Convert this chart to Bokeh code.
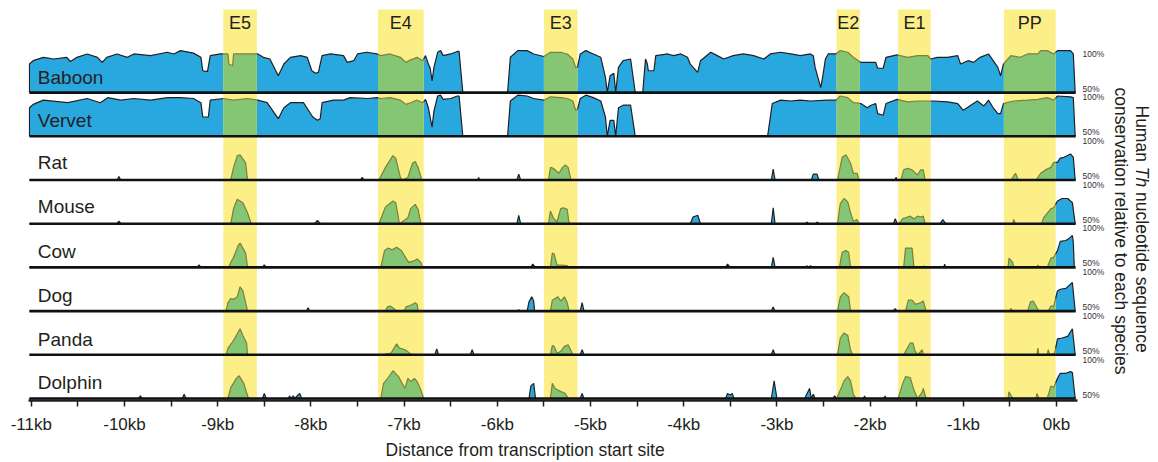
import numpy as np
from bokeh.plotting import figure
from bokeh.models import Range1d, FixedTicker, Title
from bokeh.core.properties import value
from bokeh.embed import file_html
from bokeh.resources import INLINE

# ---------------- data ----------------
species = ["Baboon", "Vervet", "Rat", "Mouse", "Cow", "Dog", "Panda", "Dolphin"]

# (position in kb relative to TSS, % identity); values <= 50 sit on the baseline
baboon = [(-11.02, 50), (-11.02, 84), (-10.98, 88), (-10.87, 92), (-10.76, 90), (-10.62, 92), (-10.58, 87),
          (-10.51, 92), (-10.40, 96), (-10.29, 92), (-10.24, 86), (-10.19, 92), (-10.08, 96), (-9.97, 92),
          (-9.90, 96), (-9.72, 94), (-9.54, 98), (-9.47, 96), (-9.40, 100), (-9.26, 97), (-9.18, 92),
          (-9.16, 76), (-9.11, 75), (-9.08, 94), (-8.97, 96), (-8.89, 96), (-8.88, 84), (-8.84, 82),
          (-8.83, 96), (-8.72, 96), (-8.62, 96), (-8.57, 96), (-8.51, 92), (-8.44, 90), (-8.35, 70),
          (-8.29, 84), (-8.22, 92), (-8.11, 94), (-8.04, 92), (-7.99, 76), (-7.95, 73), (-7.92, 74),
          (-7.88, 94), (-7.79, 96), (-7.65, 94), (-7.61, 86), (-7.54, 88), (-7.50, 96), (-7.40, 98),
          (-7.29, 96), (-7.25, 94), (-7.15, 96), (-7.04, 92), (-6.98, 86), (-6.93, 89), (-6.86, 92),
          (-6.80, 88), (-6.77, 94), (-6.74, 84), (-6.72, 79), (-6.70, 64), (-6.68, 80), (-6.64, 98),
          (-6.61, 100), (-6.58, 94), (-6.50, 96), (-6.43, 99), (-6.41, 99), (-6.37, 50), (-5.89, 50),
          (-5.86, 92), (-5.78, 100), (-5.68, 100), (-5.61, 96), (-5.50, 93), (-5.43, 98), (-5.32, 98),
          (-5.25, 96), (-5.19, 90), (-5.16, 80), (-5.14, 80), (-5.11, 96), (-5.05, 100), (-4.97, 96),
          (-4.89, 92), (-4.84, 68), (-4.82, 50), (-4.79, 70), (-4.75, 73), (-4.73, 50), (-4.70, 80),
          (-4.65, 88), (-4.57, 90), (-4.52, 50), (-4.44, 50), (-4.41, 90), (-4.39, 84), (-4.38, 76),
          (-4.32, 76), (-4.30, 94), (-4.17, 96), (-4.11, 94), (-4.03, 96), (-3.96, 92), (-3.93, 84),
          (-3.85, 74), (-3.82, 88), (-3.71, 98), (-3.64, 94), (-3.57, 90), (-3.47, 94), (-3.36, 96),
          (-3.25, 94), (-3.14, 90), (-3.07, 96), (-2.96, 98), (-2.85, 96), (-2.75, 94), (-2.64, 96),
          (-2.61, 94), (-2.59, 80), (-2.55, 64), (-2.53, 56), (-2.51, 68), (-2.48, 90), (-2.45, 96),
          (-2.37, 96), (-2.32, 100), (-2.24, 98), (-2.18, 92), (-2.10, 86), (-1.99, 86), (-1.94, 86),
          (-1.92, 79), (-1.86, 79), (-1.83, 92), (-1.71, 95), (-1.60, 92), (-1.49, 94), (-1.38, 94),
          (-1.35, 90), (-1.28, 92), (-1.17, 92), (-1.06, 94), (-1.03, 84), (-0.95, 88), (-0.89, 86),
          (-0.82, 92), (-0.73, 96), (-0.68, 88), (-0.63, 80), (-0.60, 70), (-0.57, 84), (-0.49, 94),
          (-0.39, 92), (-0.31, 96), (-0.20, 96), (-0.17, 100), (-0.10, 100), (-0.03, 96), (0.01, 100),
          (0.15, 100), (0.18, 96), (0.20, 50)]

vervet = [(-11.02, 50), (-11.02, 84), (-10.98, 88), (-10.87, 93), (-10.61, 90), (-10.40, 95), (-10.26, 90),
          (-10.18, 96), (-10.04, 93), (-9.90, 95), (-9.72, 93), (-9.54, 96), (-9.40, 96), (-9.26, 95),
          (-9.18, 90), (-9.16, 73), (-9.10, 73), (-9.08, 93), (-8.94, 95), (-8.83, 93), (-8.68, 95),
          (-8.57, 93), (-8.47, 90), (-8.35, 71), (-8.29, 84), (-8.22, 90), (-8.08, 90), (-7.98, 73),
          (-7.93, 69), (-7.90, 71), (-7.88, 90), (-7.76, 93), (-7.65, 93), (-7.58, 96), (-7.39, 95),
          (-7.29, 96), (-7.25, 95), (-7.15, 96), (-7.04, 93), (-6.98, 88), (-6.93, 90), (-6.86, 93),
          (-6.80, 90), (-6.77, 94), (-6.74, 84), (-6.70, 61), (-6.68, 80), (-6.64, 98), (-6.61, 99),
          (-6.58, 94), (-6.50, 95), (-6.43, 98), (-6.41, 98), (-6.37, 50), (-5.89, 50), (-5.86, 92),
          (-5.78, 99), (-5.68, 98), (-5.61, 95), (-5.50, 93), (-5.43, 97), (-5.32, 96), (-5.25, 95),
          (-5.19, 92), (-5.16, 81), (-5.14, 82), (-5.11, 95), (-5.05, 99), (-4.97, 96), (-4.89, 92),
          (-4.84, 73), (-4.82, 50), (-4.79, 69), (-4.75, 69), (-4.73, 50), (-4.70, 84), (-4.65, 87),
          (-4.57, 87), (-4.52, 50), (-3.10, 50), (-3.05, 89), (-2.96, 93), (-2.85, 92), (-2.75, 93),
          (-2.64, 92), (-2.46, 93), (-2.37, 93), (-2.32, 98), (-2.24, 96), (-2.18, 90), (-2.10, 89),
          (-2.03, 84), (-1.99, 87), (-1.94, 89), (-1.92, 77), (-1.86, 75), (-1.83, 89), (-1.71, 94),
          (-1.60, 91), (-1.49, 92), (-1.38, 92), (-1.32, 92), (-1.17, 91), (-1.06, 89), (-1.00, 81),
          (-0.92, 87), (-0.85, 92), (-0.78, 86), (-0.73, 93), (-0.68, 84), (-0.63, 77), (-0.60, 77),
          (-0.57, 89), (-0.46, 92), (-0.31, 93), (-0.20, 94), (-0.10, 96), (-0.03, 93), (0.01, 98),
          (0.15, 97), (0.18, 96), (0.20, 50)]

rat = [(-11.02, 50), (-10.08, 50), (-10.06, 54), (-10.04, 50),
       (-8.86, 50), (-8.83, 65), (-8.79, 79), (-8.76, 80), (-8.70, 70), (-8.68, 50),
       (-7.47, 50), (-7.45, 53), (-7.43, 50),
       (-7.27, 50), (-7.20, 65), (-7.12, 79), (-7.09, 76), (-7.04, 53), (-7.02, 50), (-6.96, 53),
       (-6.91, 70), (-6.88, 72), (-6.85, 65), (-6.81, 50),
       (-6.21, 50), (-6.20, 53), (-6.19, 50), (-5.79, 50), (-5.77, 57), (-5.75, 50),
       (-5.45, 50), (-5.43, 65), (-5.40, 64), (-5.34, 58), (-5.30, 65), (-5.27, 68), (-5.24, 65), (-5.21, 50),
       (-3.06, 50), (-3.04, 63), (-3.02, 50), (-2.63, 50), (-2.61, 57), (-2.57, 57), (-2.55, 50),
       (-2.35, 50), (-2.30, 77), (-2.26, 80), (-2.21, 70), (-2.18, 58), (-2.14, 58), (-2.12, 50),
       (-1.74, 50), (-1.72, 53), (-1.71, 50),
       (-1.67, 50), (-1.64, 62), (-1.60, 64), (-1.55, 62), (-1.49, 56), (-1.46, 62), (-1.43, 62), (-1.41, 50),
       (-0.49, 50), (-0.44, 58), (-0.41, 50),
       (-0.22, 50), (-0.17, 58), (-0.12, 62), (-0.06, 65), (-0.03, 71), (0.01, 71), (0.04, 76), (0.08, 77),
       (0.15, 81), (0.18, 77), (0.20, 50)]

mouse = [(-11.02, 50), (-10.08, 50), (-10.06, 53), (-10.04, 50),
         (-8.86, 50), (-8.83, 68), (-8.79, 79), (-8.73, 75), (-8.68, 63), (-8.64, 50),
         (-7.96, 50), (-7.93, 54), (-7.90, 50),
         (-7.27, 50), (-7.20, 70), (-7.12, 77), (-7.09, 75), (-7.05, 50), (-6.96, 57), (-6.93, 68),
         (-6.88, 73), (-6.85, 67), (-6.82, 50),
         (-5.79, 50), (-5.77, 60), (-5.75, 50),
         (-5.45, 50), (-5.43, 65), (-5.40, 57), (-5.36, 52), (-5.32, 68), (-5.29, 69), (-5.25, 67), (-5.23, 50),
         (-3.93, 50), (-3.90, 58), (-3.85, 60), (-3.82, 50), (-3.06, 50), (-3.04, 69), (-3.02, 50),
         (-2.69, 50), (-2.68, 52), (-2.66, 50), (-2.58, 50), (-2.57, 52), (-2.55, 50),
         (-2.35, 50), (-2.32, 74), (-2.28, 80), (-2.24, 76), (-2.21, 63), (-2.18, 53), (-2.14, 55), (-2.12, 50),
         (-1.75, 50), (-1.73, 56), (-1.71, 50),
         (-1.69, 50), (-1.65, 56), (-1.62, 57), (-1.57, 59), (-1.53, 56), (-1.49, 59), (-1.46, 58),
         (-1.43, 59), (-1.41, 50), (-1.25, 50), (-1.22, 55), (-1.19, 50),
         (-0.47, 50), (-0.46, 55), (-0.44, 50),
         (-0.16, 50), (-0.14, 57), (-0.06, 68), (-0.03, 69), (0.01, 77), (0.06, 80), (0.12, 80), (0.17, 75),
         (0.20, 50)]

cow = [(-11.02, 50), (-9.22, 50), (-9.20, 53), (-9.18, 50),
       (-8.88, 50), (-8.86, 56), (-8.83, 62), (-8.78, 76), (-8.76, 79), (-8.70, 67), (-8.68, 50),
       (-8.52, 50), (-8.50, 53), (-8.48, 50),
       (-7.25, 50), (-7.21, 70), (-7.17, 73), (-7.13, 71), (-7.08, 74), (-7.03, 70), (-6.98, 61),
       (-6.95, 56), (-6.89, 58), (-6.86, 60), (-6.82, 56), (-6.80, 50),
       (-5.64, 50), (-5.62, 54), (-5.59, 50),
       (-5.43, 50), (-5.41, 67), (-5.39, 66), (-5.36, 53), (-5.25, 52), (-5.23, 50),
       (-3.55, 50), (-3.53, 54), (-3.50, 50), (-3.06, 50), (-3.04, 62), (-3.02, 50),
       (-2.69, 50), (-2.68, 52), (-2.66, 50), (-2.64, 52), (-2.62, 50),
       (-2.33, 50), (-2.30, 68), (-2.26, 70), (-2.23, 68), (-2.21, 50),
       (-1.64, 50), (-1.62, 73), (-1.55, 73), (-1.53, 50), (-1.43, 50), (-1.42, 52), (-1.41, 50),
       (-1.21, 50), (-1.20, 54), (-1.19, 50),
       (-0.52, 50), (-0.51, 61), (-0.47, 56), (-0.46, 50), (-0.21, 50), (-0.20, 53), (-0.19, 50),
       (-0.10, 50), (-0.06, 61), (-0.03, 62), (0.01, 70), (0.04, 81), (0.10, 82), (0.13, 84), (0.17, 88),
       (0.18, 80), (0.19, 50)]

dog = [(-11.02, 50),
       (-8.91, 50), (-8.89, 60), (-8.86, 65), (-8.83, 64), (-8.79, 67), (-8.76, 79), (-8.73, 74), (-8.70, 60),
       (-8.68, 50), (-8.05, 50), (-8.03, 54), (-8.01, 50),
       (-7.20, 50), (-7.18, 55), (-7.15, 56), (-7.11, 53), (-7.08, 50), (-7.00, 50), (-6.98, 55),
       (-6.93, 57), (-6.88, 60), (-6.86, 58), (-6.85, 50),
       (-5.78, 50), (-5.77, 52), (-5.76, 50), (-5.68, 50), (-5.66, 61), (-5.63, 67), (-5.61, 62), (-5.60, 50),
       (-5.43, 50), (-5.41, 63), (-5.35, 67), (-5.32, 62), (-5.28, 67), (-5.25, 60), (-5.23, 50),
       (-5.11, 50), (-5.09, 60), (-5.07, 50), (-3.06, 50), (-3.04, 55), (-3.02, 50),
       (-2.35, 50), (-2.32, 67), (-2.28, 72), (-2.23, 67), (-2.21, 50),
       (-1.76, 50), (-1.73, 53), (-1.71, 50),
       (-1.62, 50), (-1.59, 63), (-1.55, 63), (-1.51, 58), (-1.46, 60), (-1.43, 62), (-1.40, 50),
       (-0.50, 50), (-0.49, 53), (-0.47, 50), (-0.31, 50), (-0.28, 61), (-0.25, 62), (-0.20, 52), (-0.19, 50),
       (-0.09, 50), (-0.06, 56), (-0.03, 56), (0.01, 74), (0.04, 76), (0.10, 77), (0.15, 82), (0.17, 84),
       (0.20, 50)]

panda = [(-11.02, 50),
         (-8.91, 50), (-8.89, 58), (-8.85, 64), (-8.82, 69), (-8.76, 81), (-8.73, 73), (-8.69, 64), (-8.68, 50),
         (-7.24, 50), (-7.14, 52), (-7.08, 63), (-7.05, 58), (-6.99, 56), (-6.94, 52), (-6.92, 50),
         (-6.67, 50), (-6.65, 57), (-6.63, 50), (-6.29, 50), (-6.27, 56), (-6.25, 50),
         (-5.43, 50), (-5.41, 61), (-5.39, 60), (-5.36, 52), (-5.32, 54), (-5.28, 60), (-5.24, 62),
         (-5.21, 55), (-5.19, 50), (-5.11, 50), (-5.09, 56), (-5.07, 50),
         (-3.06, 50), (-3.04, 56), (-3.02, 50),
         (-2.35, 50), (-2.32, 70), (-2.28, 76), (-2.24, 73), (-2.21, 56), (-2.19, 50),
         (-1.64, 50), (-1.60, 58), (-1.57, 64), (-1.54, 64), (-1.52, 55), (-1.49, 50), (-1.44, 56), (-1.43, 50),
         (-0.21, 50), (-0.20, 58), (-0.19, 50),
         (-0.10, 50), (-0.09, 56), (-0.07, 50), (-0.02, 52), (0.01, 69), (0.06, 70), (0.12, 72), (0.17, 81),
         (0.20, 50)]

dolphin = [(-11.02, 50), (-9.85, 50), (-9.83, 53), (-9.81, 50), (-9.38, 50), (-9.36, 55), (-9.34, 50),
           (-8.89, 50), (-8.86, 63), (-8.80, 74), (-8.77, 77), (-8.72, 68), (-8.67, 50),
           (-8.52, 50), (-8.50, 56), (-8.48, 50),
           (-8.24, 50), (-8.23, 53), (-8.21, 50), (-8.19, 53), (-8.17, 50), (-8.14, 54), (-8.12, 56), (-8.10, 50),
           (-7.25, 50), (-7.22, 68), (-7.17, 75), (-7.12, 83), (-7.06, 76), (-7.03, 70), (-6.99, 62),
           (-6.96, 74), (-6.93, 70), (-6.89, 74), (-6.86, 70), (-6.82, 60), (-6.79, 50),
           (-5.66, 50), (-5.64, 65), (-5.61, 68), (-5.59, 50),
           (-5.43, 50), (-5.41, 68), (-5.38, 62), (-5.35, 60), (-5.27, 56), (-5.24, 50),
           (-5.11, 50), (-5.09, 56), (-5.07, 50),
           (-3.55, 50), (-3.53, 56), (-3.50, 54), (-3.48, 56), (-3.46, 50),
           (-3.06, 50), (-3.03, 71), (-3.00, 50),
           (-2.70, 50), (-2.69, 53), (-2.65, 62), (-2.63, 50), (-2.61, 55), (-2.59, 50),
           (-2.40, 50), (-2.38, 53), (-2.36, 50), (-2.32, 60), (-2.28, 71), (-2.24, 76), (-2.21, 71),
           (-2.18, 55), (-2.15, 50), (-2.07, 50), (-2.06, 53), (-2.05, 50), (-1.85, 50), (-1.84, 53), (-1.83, 50),
           (-1.70, 50), (-1.65, 68), (-1.62, 76), (-1.57, 75), (-1.53, 60), (-1.49, 50), (-1.44, 58),
           (-1.43, 62), (-1.40, 50),
           (-0.52, 50), (-0.51, 58), (-0.47, 50), (-0.22, 50), (-0.21, 56), (-0.19, 50),
           (-0.10, 50), (-0.06, 65), (-0.03, 63), (0.01, 74), (0.04, 80), (0.10, 80), (0.15, 82), (0.17, 81),
           (0.20, 50)]

elements = ["E5", "E4", "E3", "E2", "E1", "PP"]
element_start = [-8.94, -7.28, -5.50, -2.36, -1.70, -0.565]
element_end = [-8.58, -6.79, -5.14, -2.11, -1.35, -0.01]

tick_kb = [-11, -10, -9, -8, -7, -6, -5, -4, -3, -2, -1, 0]
tick_labels = ["-11kb", "-10kb", "-9kb", "-8kb", "-7kb", "-6kb", "-5kb", "-4kb", "-3kb", "-2kb", "-1kb", "0kb"]
minor_kb = [-10.5, -9.5, -8.5, -7.5, -6.5, -5.5, -4.5, -3.5, -2.5, -1.5, -0.5]

pct_labels = ["100%", "50%"]

tracks = [baboon, vervet, rat, mouse, cow, dog, panda, dolphin]

# ---------------- styling / layout ----------------
FONT = "Liberation Sans"
INK = "#231F20"
BLUE = "#29A8E0"
GREEN = "#84C673"
YELLOW = "#FCEF88"
OLIVE = "#7E7F3A"
PX = 42.0                 # pixels for one track unit (50% -> 100%)
SPACING = 43.7 / PX       # distance between track baselines
AX0, AX1 = -11.03, 0.225  # extent of the axis and tracks

W, H = 1158, 462
p = figure(width=W, height=H, x_range=Range1d(AX0, 1.094), y_range=Range1d(-2 / PX, 398 / PX),
           output_backend="svg", toolbar_location=None, y_axis_location=None,
           min_border_left=28, min_border_right=0, min_border_top=0, min_border_bottom=62)
p.outline_line_color = None
p.xgrid.visible = False
p.ygrid.visible = False
p.background_fill_color = "white"
p.border_fill_color = "white"

n = len(species)
bases = [(n - 1 - i) * SPACING for i in range(n)]

# highlight columns
p.quad(left=element_start, right=element_end, bottom=0, top=389 / PX,
       fill_color=YELLOW, line_color=None)

def in_element(xm):
    return any(s <= xm <= e for s, e in zip(element_start, element_end))

edges = sorted(element_start + element_end)

blue_xs, blue_ys, green_xs, green_ys = [], [], [], []
line_xs, line_ys, line_cols = [], [], []
for pts, base in zip(tracks, bases):
    x = [a for a, _ in pts]
    v = [min(max(b, 50), 100) for _, b in pts]
    px, pv = [], []
    for i in range(len(x)):
        px.append(x[i]); pv.append(v[i])
        if i < len(x) - 1:
            for b in edges:
                if x[i] < b < x[i + 1]:
                    t = (b - x[i]) / (x[i + 1] - x[i])
                    px.append(b); pv.append(v[i] + t * (v[i + 1] - v[i]))
    cut = []
    for b in edges:
        for j in range(1, len(px) - 1):
            if abs(px[j] - b) < 1e-9:
                cut.append(j)
                break
    bounds = [0] + sorted(set(cut)) + [len(px) - 1]
    for a, b in zip(bounds[:-1], bounds[1:]):
        if b <= a:
            continue
        sx = px[a:b + 1]
        sy = [base + (val - 50) / 50.0 for val in pv[a:b + 1]]
        green = in_element((sx[0] + sx[-1]) / 2)
        polyx = sx + [sx[-1], sx[0]]
        polyy = sy + [base, base]
        if green:
            green_xs.append(polyx); green_ys.append(polyy)
        else:
            blue_xs.append(polyx); blue_ys.append(polyy)
        line_xs.append(sx); line_ys.append(sy); line_cols.append(OLIVE if green else INK)

p.patches(blue_xs, blue_ys, fill_color=BLUE, line_color=None)
p.patches(green_xs, green_ys, fill_color=GREEN, line_color=None)
p.multi_line(line_xs, line_ys, line_color=line_cols, line_width=1.2)

# baselines
p.segment(x0=[-11.02] * n, x1=[0.205] * n, y0=bases, y1=bases, line_color="#111111", line_width=2.6)

# species names
name_off = [15, 16, 18, 17, 16, 16, 15, 16]
p.text(x=[-10.93] * n, y=[b + o / PX for b, o in zip(bases, name_off)], text=species,
       text_font=value(FONT), text_font_size="19px", text_color=INK,
       text_align="left", text_baseline="middle")

# element names
p.text(x=[(s + e) / 2 for s, e in zip(element_start, element_end)], y=[376 / PX] * len(elements),
       text=elements, text_font=value(FONT), text_font_size="18px", text_color=INK,
       text_align="center", text_baseline="middle")

# right-hand percent labels
p.text(x=[0.279] * (2 * n),
       y=[b + 39 / PX for b in bases] + [b + 4 / PX for b in bases],
       text=[pct_labels[0]] * n + [pct_labels[1]] * n,
       text_font=value(FONT), text_font_size="8.5px", text_color="#333333",
       text_align="left", text_baseline="middle")

# rotated side title (reads top to bottom)
side = [("Human", 105, "normal", 0.917),
        ("Th", 166.3, "italic", 0.917),
        ("nucleotide sequence", 191.6, "normal", 0.917),
        ("conservation relative to each species", 87, "normal", 0.697)]
for txt, ypix, style, xpos in side:
    p.text(x=[xpos], y=[(398 - ypix) / PX], text=[txt], angle=-np.pi / 2,
           text_font=value(FONT), text_font_size="17.5px", text_font_style=style, text_color=INK,
           text_align="left", text_baseline="middle")

# x axis
ax = p.xaxis[0]
ax.bounds = (AX0, AX1)
ax.ticker = FixedTicker(ticks=tick_kb, minor_ticks=minor_kb)
ax.major_label_overrides = {t: l for t, l in zip(tick_kb, tick_labels)}
ax.major_label_text_font = FONT
ax.major_label_text_font_size = "17px"
ax.major_label_text_color = INK
ax.major_label_standoff = 8
ax.axis_line_width = 2.5
ax.axis_line_color = INK
ax.major_tick_line_color = INK
ax.minor_tick_line_color = INK
ax.major_tick_line_width = 1.5
ax.minor_tick_line_width = 1.5
ax.major_tick_in = 0
ax.major_tick_out = 6
ax.minor_tick_in = 0
ax.minor_tick_out = 6

p.add_layout(Title(text="Distance from transcription start site", align="left", offset=357,
                   text_font=FONT, text_font_size="17.5px", text_font_style="normal",
                   text_color=INK, standoff=2), "below")

open("out.html", "w").write(file_html(p, INLINE))
